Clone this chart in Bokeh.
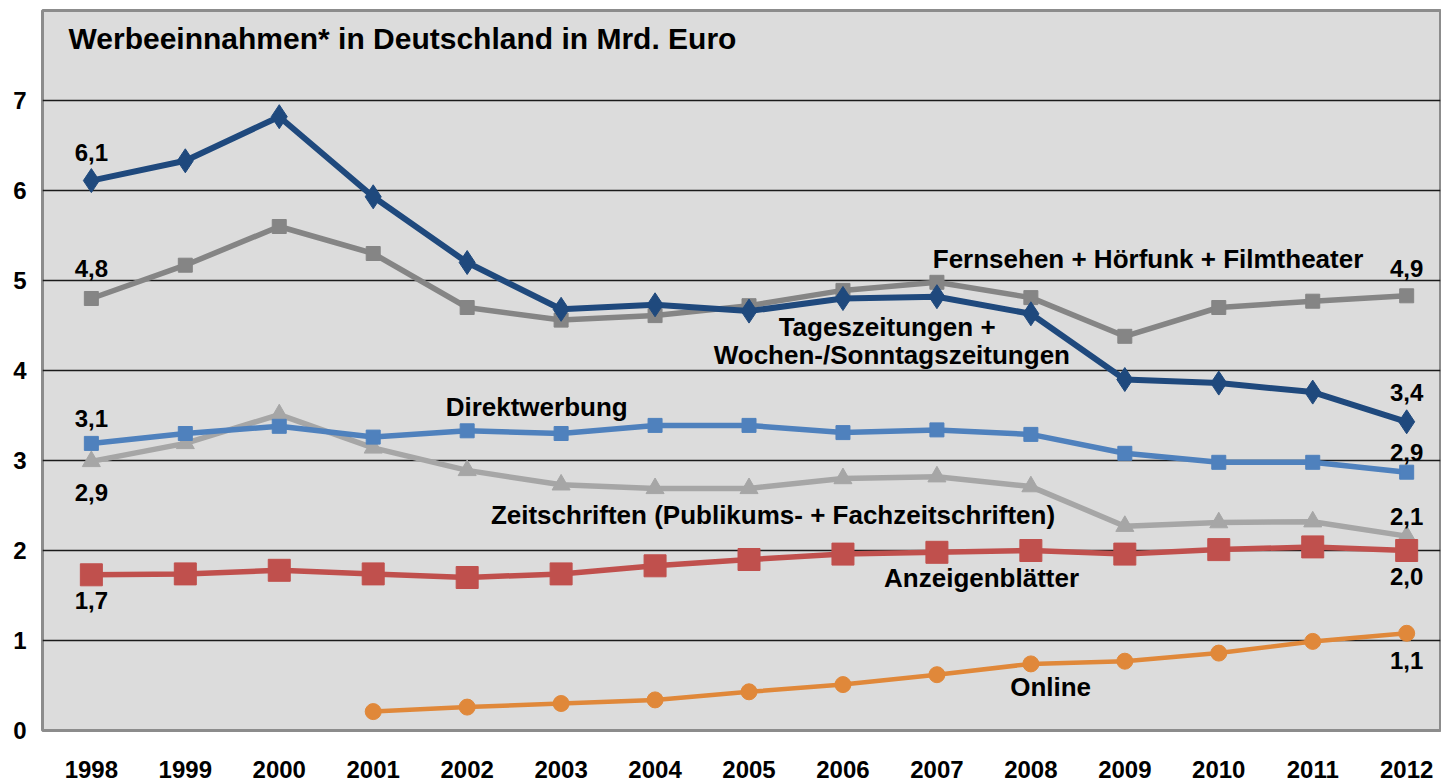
from bokeh.plotting import figure
from bokeh.models import FixedTicker, Range1d
from bokeh.core.properties import value
from bokeh.embed import file_html
from bokeh.resources import INLINE

years = list(range(1998, 2013))
tageszeitungen = [6.11, 6.33, 6.82, 5.93, 5.20, 4.68, 4.73, 4.66, 4.80, 4.82, 4.63, 3.90, 3.86, 3.76, 3.43]
fernsehen = [4.80, 5.17, 5.60, 5.30, 4.70, 4.56, 4.61, 4.72, 4.89, 4.98, 4.81, 4.38, 4.70, 4.77, 4.83]
direktwerbung = [3.19, 3.30, 3.38, 3.26, 3.33, 3.30, 3.39, 3.39, 3.31, 3.34, 3.29, 3.08, 2.98, 2.98, 2.87]
zeitschriften = [2.99, 3.19, 3.51, 3.14, 2.89, 2.73, 2.69, 2.69, 2.80, 2.82, 2.71, 2.27, 2.31, 2.32, 2.16]
anzeigenblaetter = [1.73, 1.74, 1.78, 1.74, 1.70, 1.74, 1.83, 1.90, 1.96, 1.98, 2.00, 1.96, 2.01, 2.04, 2.00]
online_years = list(range(2001, 2013))
online = [0.21, 0.26, 0.30, 0.34, 0.43, 0.51, 0.62, 0.74, 0.77, 0.86, 0.99, 1.08]

title_text = "Werbeeinnahmen* in Deutschland in Mrd. Euro"
y_ticks = [0, 1, 2, 3, 4, 5, 6, 7]

FONT = "Liberation Sans"

p = figure(width=1441, height=782, output_backend="svg", toolbar_location=None,
           x_range=Range1d(1997.48, 2012.36), y_range=Range1d(0, 8.0))
p.min_border_left = 42
p.min_border_right = 1
p.min_border_top = 10
p.min_border_bottom = 52
p.background_fill_color = "#dcdcdc"
p.border_fill_color = "white"
p.outline_line_color = "#8c8c8c"
p.outline_line_width = 3

p.xgrid.visible = False
p.ygrid.ticker = FixedTicker(ticks=[t for t in y_ticks if t > 0])
p.ygrid.grid_line_color = "#1a1a1a"
p.ygrid.grid_line_width = 1.3

p.xaxis.ticker = FixedTicker(ticks=years)
p.yaxis.ticker = FixedTicker(ticks=y_ticks)
for ax in (p.xaxis, p.yaxis):
    ax.axis_line_color = None
    ax.major_tick_line_color = None
    ax.minor_tick_line_color = None
    ax.major_label_text_font = FONT
    ax.major_label_text_font_style = "bold"
    ax.major_label_text_font_size = "24px"
    ax.major_label_text_color = "black"
p.xaxis.major_label_standoff = 24
p.yaxis.major_label_standoff = 10

def series(xs, ys, color, lw, marker, size):
    p.line(xs, ys, line_color=color, line_width=lw)
    p.scatter(xs, ys, marker=marker, size=size, fill_color=color, line_color=color)

series(years, zeitschriften, "#a6a6a6", 5.5, "triangle", 18)
series(years, fernsehen, "#858585", 5.5, "square", 14)
series(years, anzeigenblaetter, "#c0504d", 5.5, "square", 22)
series(years, direktwerbung, "#4f81bd", 5.5, "square", 14)
series(years, tageszeitungen, "#1f497d", 6, "diamond", 24)
series(online_years, online, "#e0883a", 4.5, "circle", 16)

def label(x, y, t, align="center", size="24px"):
    p.text(x=[x], y=[y], text=[t], text_font=value(FONT), text_font_style="bold",
           text_font_size=size, text_align=align, text_baseline="middle", text_color="black")

# title
label(1997.757, 7.69, title_text, align="left", size="30px")

# start values
label(1998, 6.42, "6,1")
label(1998, 5.13, "4,8")
label(1998, 3.47, "3,1")
label(1998, 2.64, "2,9")
label(1998, 1.44, "1,7")
# end values
label(2012, 5.13, "4,9")
label(2012, 3.76, "3,4")
label(2012, 3.09, "2,9")
label(2012, 2.38, "2,1")
label(2012, 1.71, "2,0")
label(2012, 0.78, "1,1")

# series names
NS = "26px"
label(2009.247, 5.244, "Fernsehen + Hörfunk + Filmtheater", size=NS)
label(2006.47, 4.478, "Tageszeitungen +", size=NS)
label(2006.52, 4.167, "Wochen-/Sonntagszeitungen", size=NS)
label(2002.74, 3.60, "Direktwerbung", size=NS)
label(2005.255, 2.389, "Zeitschriften (Publikums- + Fachzeitschriften)", size=NS)
label(2007.475, 1.689, "Anzeigenblätter", size=NS)
label(2008.21, 0.478, "Online", size=NS)

open("out.html", "w").write(file_html(p, INLINE))
